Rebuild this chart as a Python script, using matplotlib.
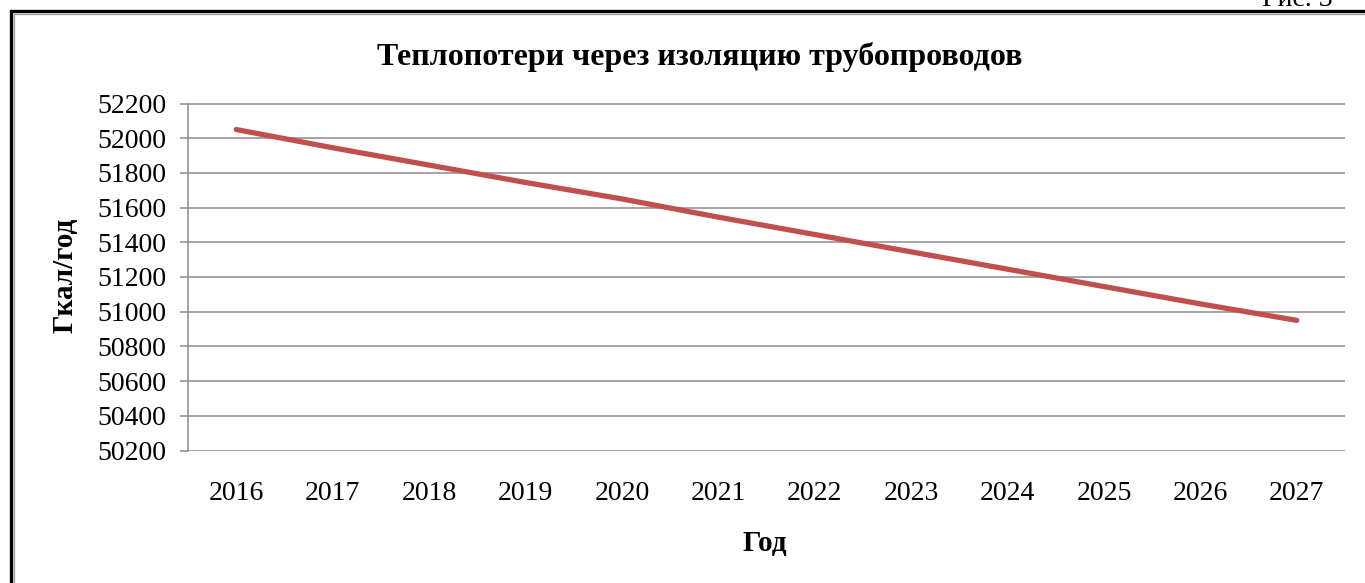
import matplotlib
matplotlib.use("Agg")
import matplotlib.pyplot as plt
from matplotlib.patches import Rectangle

years = ["2016", "2017", "2018", "2019", "2020", "2021",
         "2022", "2023", "2024", "2025", "2026", "2027"]
losses = [52050, 51945, 51845, 51745, 51650, 51545,
          51445, 51345, 51245, 51145, 51045, 50950]
y_ticks = [50200, 50400, 50600, 50800, 51000, 51200,
           51400, 51600, 51800, 52000, 52200]

plt.rcParams['font.family'] = ['Liberation Serif', 'DejaVu Serif']

W, H = 1365, 583
fig = plt.figure(figsize=(W / 100, H / 100), dpi=100)

# рамка вокруг диаграммы (выходит за правый и нижний край)
fig.patches.append(Rectangle((10.5 / W, -0.1), 1.2, 1 - 11 / H + 0.1,
                             transform=fig.transFigure, fill=False,
                             edgecolor='black', linewidth=2.4))
fig.patches.append(Rectangle((14 / W, -0.1), 1.2, 1 - 14 / H + 0.1,
                             transform=fig.transFigure, fill=False,
                             edgecolor='#9a9a9a', linewidth=0.9))
fig.text(1262 / W, 1 - 6 / H, "Рис. 3", fontsize=20, ha='left', va='baseline')

ax = fig.add_axes([188 / W, 1 - 450.5 / H, (1345 - 188) / W, (450.5 - 103.5) / H])
x = list(range(len(years)))
ax.plot(x, losses, color='#C0504D', linewidth=3.8, solid_capstyle='round')

ax.set_xlim(-0.5, len(years) - 0.5)
ax.set_ylim(y_ticks[0], y_ticks[-1])
ax.set_xticks(x)
ax.set_xticklabels(years)
ax.set_yticks(y_ticks)
ax.yaxis.grid(True, color='#8c8c8c', linewidth=1.1)
ax.set_axisbelow(True)
for s in ['top', 'right', 'bottom']:
    ax.spines[s].set_visible(False)
ax.spines['left'].set_color('#8c8c8c')
ax.spines['left'].set_linewidth(1.1)
ax.tick_params(axis='y', length=5.8, width=1.1, color='#8c8c8c', labelsize=20, pad=10)
ax.tick_params(axis='x', length=0, labelsize=20, pad=22)

ax.set_xlabel("Год", fontsize=21, fontweight='bold', va='center')
ax.xaxis.set_label_coords(0.5 + (765 - 766.5) / 1157, (450.5 - 544) / 347)
ax.set_ylabel("Гкал/год", fontsize=21, fontweight='bold', va='center')
ax.yaxis.set_label_coords((65 - 188) / 1157, (450.5 - 275) / 347)

fig.text(700 / W, 1 - 57 / H, "Теплопотери через изоляцию трубопроводов",
         fontsize=23, fontweight='bold', ha='center', va='center')

fig.savefig("out.png", dpi=100)
